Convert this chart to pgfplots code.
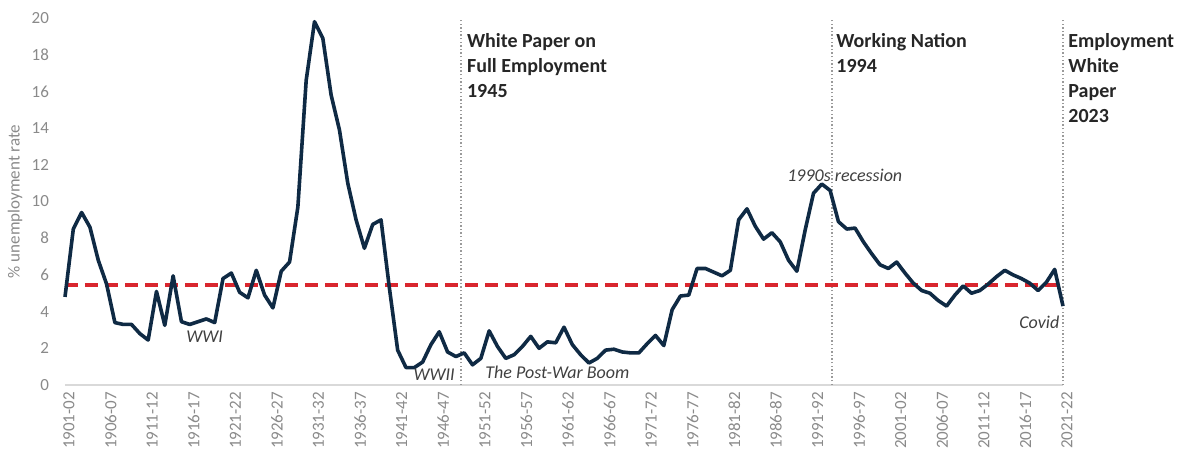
\documentclass[border=0pt]{standalone}
\usepackage{pgfplots}
\pgfplotsset{compat=1.18}
\usepackage{pgfplotstable}
\usepackage{fontspec}
\setmainfont{Carlito}
\definecolor{navy}{HTML}{0F2A44}
\definecolor{redd}{HTML}{D9262E}
\definecolor{tickgray}{HTML}{8A8A8A}
\definecolor{axgray}{HTML}{D9D9D9}
\definecolor{dotgray}{HTML}{9A9A9A}
\definecolor{txt}{HTML}{262626}
\definecolor{itxt}{HTML}{404040}

\pgfplotstableread{
i v
0 4.8
1 8.5
2 9.4
3 8.6
4 6.8
5 5.5
6 3.4
7 3.3
8 3.3
9 2.8
10 2.45
11 5.1
12 3.25
13 5.95
14 3.45
15 3.3
16 3.45
17 3.6
18 3.4
19 5.8
20 6.1
21 5.05
22 4.75
23 6.25
24 4.9
25 4.2
26 6.2
27 6.7
28 9.7
29 16.6
30 19.8
31 18.9
32 15.8
33 13.9
34 11.0
35 9.0
36 7.45
37 8.75
38 9.0
39 5.3
40 1.9
41 0.95
42 0.95
43 1.25
44 2.2
45 2.9
46 1.8
47 1.55
48 1.75
49 1.1
50 1.45
51 2.95
52 2.1
53 1.45
54 1.65
55 2.1
56 2.65
57 2.0
58 2.35
59 2.3
60 3.15
61 2.2
62 1.65
63 1.2
64 1.45
65 1.9
66 1.95
67 1.8
68 1.75
69 1.75
70 2.25
71 2.7
72 2.15
73 4.1
74 4.85
75 4.9
76 6.35
77 6.35
78 6.15
79 5.95
80 6.25
81 9.0
82 9.6
83 8.65
84 7.95
85 8.3
86 7.8
87 6.8
88 6.2
89 8.45
90 10.45
91 10.95
92 10.6
93 8.9
94 8.5
95 8.55
96 7.8
97 7.15
98 6.55
99 6.35
100 6.7
101 6.1
102 5.55
103 5.15
104 5.0
105 4.6
106 4.3
107 4.9
108 5.4
109 5.0
110 5.15
111 5.5
112 5.9
113 6.25
114 6.0
115 5.8
116 5.55
117 5.15
118 5.6
119 6.3
120 4.3
}\unemp

\begin{document}
\begin{tikzpicture}
\begin{axis}[
  at={(0,0)}, anchor=south west,
  scale only axis, width=499pt, height=183.5pt,
  xmin=0, xmax=120, ymin=0, ymax=20,
  axis lines=left,
  x axis line style={draw=axgray, line width=0.8pt, -},
  y axis line style={draw=none, -},
  major tick length=0pt,
  xtick={0,5,...,120},
  xticklabels={1901-02,1906-07,1911-12,1916-17,1921-22,1926-27,1931-32,1936-37,1941-42,1946-47,1951-52,1956-57,1961-62,1966-67,1971-72,1976-77,1981-82,1986-87,1991-92,1996-97,2001-02,2006-07,2011-12,2016-17,2021-22},
  ytick={0,2,...,20},
  /pgf/number format/assume math mode=true,
  x tick label style={rotate=90, anchor=east, font=\fontsize{8.5}{10}\selectfont, text=tickgray, yshift=-2pt},
  y tick label style={anchor=east, font=\fontsize{8.5}{10}\selectfont, text=tickgray, xshift=-4.5pt},
  ylabel={\% unemployment rate},
  ylabel style={at={(axis description cs:-0.0501,0.5)}, anchor=center, font=\fontsize{8.5}{10}\selectfont, text=tickgray},
  clip=false,
]
\draw[dotgray, line width=0.7pt, dash pattern=on 0.7pt off 1.1pt] (axis cs:47.6,0) -- (axis cs:47.6,20);
\draw[dotgray, line width=0.7pt, dash pattern=on 0.7pt off 1.1pt] (axis cs:92.2,0) -- (axis cs:92.2,20);
\draw[dotgray, line width=0.7pt, dash pattern=on 0.7pt off 1.1pt] (axis cs:120,0) -- (axis cs:120,20);
\addplot[redd, line width=2pt, dash pattern=on 6.5pt off 3.5pt, mark=none] coordinates {(0,5.45) (120,5.45)};
\addplot[navy, line width=1.8pt, line join=round, mark=none] table[x=i,y=v]{\unemp};
\node[anchor=north west, inner sep=0pt, align=left, text=txt, font=\fontsize{10}{12.5}\selectfont\bfseries] at (axis cs:48.3,19.2) {White Paper on\\Full Employment\\1945};
\node[anchor=north west, inner sep=0pt, align=left, text=txt, font=\fontsize{10}{12.5}\selectfont\bfseries] at (axis cs:92.7,19.2) {Working Nation\\1994};
\node[anchor=north west, inner sep=0pt, align=left, text=txt, font=\fontsize{10}{12.5}\selectfont\bfseries] at (axis cs:120.6,19.2) {Employment\\White\\Paper\\2023};
\node[anchor=base, inner sep=0pt, text=itxt, font=\fontsize{9}{11}\selectfont\itshape] at (axis cs:16.8,2.29) {WWI};
\node[anchor=base east, inner sep=0pt, text=itxt, font=\fontsize{9}{11}\selectfont\itshape] at (axis cs:46.9,0.27) {WWII};
\node[anchor=base west, inner sep=0pt, text=itxt, font=\fontsize{9}{11}\selectfont\itshape] at (axis cs:50.5,0.38) {The Post-War Boom};
\node[anchor=base west, inner sep=0pt, text=itxt, font=\fontsize{9}{11}\selectfont\itshape] at (axis cs:86.8,11.1) {1990s recession};
\node[anchor=base east, inner sep=0pt, text=itxt, font=\fontsize{9}{11}\selectfont\itshape] at (axis cs:119.6,3.1) {Covid};
\end{axis}
\pgfresetboundingbox
\path (-32.5pt,-37pt) rectangle (558.5pt,192.5pt);
\end{tikzpicture}
\end{document}
